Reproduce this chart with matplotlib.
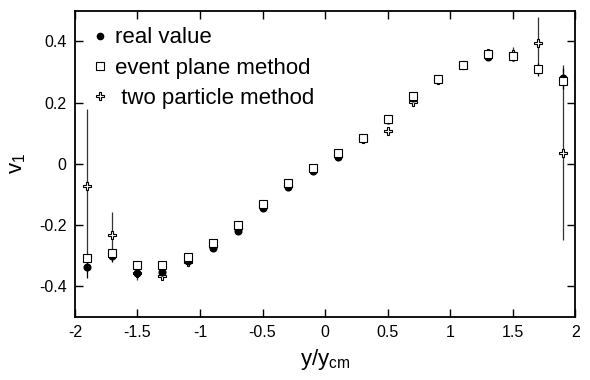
import numpy as np
import matplotlib.pyplot as plt
from matplotlib.lines import Line2D

plt.rcParams['font.family'] = ['Liberation Sans', 'DejaVu Sans']
plt.rcParams['mathtext.default'] = 'regular'

# y / y_cm positions
y_ycm = [-1.9, -1.7, -1.5, -1.3, -1.1, -0.9, -0.7, -0.5, -0.3, -0.1,
         0.1, 0.3, 0.5, 0.7, 0.9, 1.1, 1.3, 1.5, 1.7, 1.9]

real_value = [-0.337, -0.300, -0.356, -0.353, -0.317, -0.276, -0.218, -0.146, -0.077, -0.023,
              0.021, 0.082, 0.143, 0.215, 0.275, 0.322, 0.350, 0.350, 0.308, 0.279]
real_err = [0.035, 0.02, 0.015, 0.012, 0.01, 0.008, 0.008, 0.006, 0.006, 0.005,
            0.005, 0.006, 0.006, 0.008, 0.008, 0.01, 0.012, 0.015, 0.02, 0.035]

event_plane = [-0.309, -0.291, -0.331, -0.331, -0.304, -0.258, -0.200, -0.130, -0.064, -0.015,
               0.036, 0.084, 0.146, 0.220, 0.278, 0.324, 0.360, 0.352, 0.310, 0.270]

two_particle = [-0.072, -0.234, -0.358, -0.366, -0.320, -0.270, -0.210, -0.137, -0.072, -0.020,
                0.026, 0.082, 0.107, 0.203, 0.274, 0.322, 0.362, 0.360, 0.395, 0.036]
two_err = [0.25, 0.078, 0.02, 0.012, 0.01, 0.008, 0.008, 0.006, 0.006, 0.005,
           0.005, 0.006, 0.006, 0.008, 0.008, 0.01, 0.012, 0.02, 0.085, 0.286]

fig = plt.figure(figsize=(5.9, 3.8), dpi=100)
ax = fig.add_axes([0.127, 0.166, 0.848, 0.806])

ax.errorbar(y_ycm, two_particle, yerr=two_err, fmt='P', ms=6, mfc='white', mec='black',
            mew=0.8, ecolor='#333333', elinewidth=0.9, capsize=0, zorder=2)
ax.errorbar(y_ycm, real_value, yerr=real_err, fmt='o', ms=4.8, color='black',
            elinewidth=0.9, capsize=0, zorder=3)
ax.plot(y_ycm, event_plane, 's', ms=5.5, mfc='white', mec='black', mew=0.8, zorder=4)

ax.set_xlim(-2, 2)
ax.set_ylim(-0.5, 0.5)
ax.set_xticks([-2, -1.5, -1, -0.5, 0, 0.5, 1, 1.5, 2])
ax.set_xticklabels(['-2', '-1.5', '-1', '-0.5', '0', '0.5', '1', '1.5', '2'])
ax.set_yticks([-0.4, -0.2, 0, 0.2, 0.4])
ax.set_yticklabels(['-0.4', '-0.2', '0', '0.2', '0.4'])
ax.tick_params(direction='in', top=True, right=True, length=6, width=1, labelsize=11.5, pad=6)
for s in ax.spines.values():
    s.set_linewidth(1.3)

ax.set_xlabel('y/y$_{cm}$', fontsize=16, labelpad=5)
ax.set_ylabel('v$_1$', fontsize=16, labelpad=8)

handles = [
    Line2D([], [], ls='none', marker='o', ms=4.5, color='black'),
    Line2D([], [], ls='none', marker='s', ms=5.2, mfc='white', mec='black', mew=0.8),
    Line2D([], [], ls='none', marker='P', ms=5.8, mfc='white', mec='black', mew=0.8),
]
labels = ['real value', 'event plane method', ' two particle method']
ax.legend(handles, labels, loc='upper left', frameon=False, fontsize=16,
          handletextpad=0.1, handlelength=1.2, labelspacing=0.42,
          borderaxespad=0.35, bbox_to_anchor=(-0.01, 1.0))

fig.savefig('out.png', dpi=100)
